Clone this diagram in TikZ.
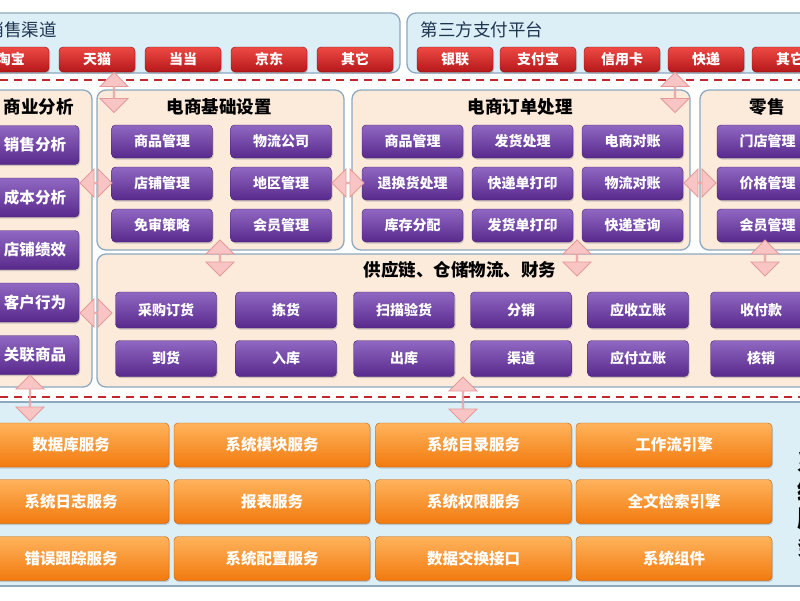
\documentclass[tikz,border=0pt]{standalone}
\usepackage{fontspec}
\setmainfont{Noto Sans CJK SC}
\usetikzlibrary{shapes.arrows,shadows}
\definecolor{bandblue}{HTML}{DCEEF6}
\definecolor{bandline}{HTML}{8DA9BF}
\definecolor{peach}{HTML}{FCEADB}
\definecolor{dashred}{HTML}{C1272D}
\definecolor{pinkfill}{HTML}{F8C4C4}
\definecolor{pinkline}{HTML}{E59A9A}
\definecolor{purtop}{HTML}{9068C2}
\definecolor{purbot}{HTML}{58298C}
\definecolor{purline}{HTML}{45206F}
\definecolor{redtop}{HTML}{EE4A44}
\definecolor{redbot}{HTML}{B5171A}
\definecolor{redline}{HTML}{8A1214}
\definecolor{ortop}{HTML}{FFB35C}
\definecolor{orbot}{HTML}{F27A0E}
\definecolor{orline}{HTML}{C25F05}
\definecolor{navy}{HTML}{1E3550}
\tikzset{
  band/.style={draw=bandline, line width=1.3pt, fill=bandblue, rounded corners=9pt},
  panel/.style={draw=bandline, line width=1.3pt, fill=peach, rounded corners=9pt},
  btn/.style={rounded corners=4pt, inner sep=0pt, text=white, drop shadow={shadow xshift=1pt, shadow yshift=-1.5pt, opacity=0.35}},
  redbtn/.style={btn, draw=redline, top color=redtop, bottom color=redbot, minimum width=76pt, minimum height=25pt, font=\fontsize{14}{15}\selectfont\bfseries},
  purbtn/.style={btn, draw=purline, top color=purtop, bottom color=purbot, minimum width=101pt, minimum height=33pt, font=\fontsize{14}{15}\selectfont\bfseries},
  orbtn/.style={btn, draw=orline, top color=ortop, bottom color=orbot, minimum width=196pt, minimum height=44pt, font=\fontsize{15.5}{16}\selectfont\bfseries},
  dbl/.style={shape=double arrow, draw=pinkline, fill=pinkfill, line width=0.8pt, inner sep=0pt, minimum width=28pt, double arrow head extend=8pt},
  sep/.style={dashred, line width=2.5pt, dash pattern=on 8pt off 6pt},
  title/.style={font=\fontsize{17.5}{18}\selectfont\bfseries},
  bandtitle/.style={navy, anchor=west, font=\fontsize{17.5}{18}\selectfont}
}
\begin{document}
\begin{tikzpicture}[x=1pt,y=-1pt]
\useasboundingbox (0,0) rectangle (800,600);
\clip (0,0) rectangle (800,600);
\fill[white] (0,0) rectangle (800,600);
\draw[band] (-20,13) rectangle (400,73);
\draw[band] (407,13) rectangle (840,73);
\node[bandtitle] (chan) at (-17,30) {销售渠道};
\node[bandtitle] (pay) at (417,30) {第三方支付平台};
\foreach \x/\t [count=\i] in {11/淘宝, 97/天猫, 183/当当, 269/京东, 355/其它}
  \node[redbtn] (s\i) at (\x,59.5) {\t};
\foreach \x/\t [count=\i] in {455/银联, 538/支付宝, 622/信用卡, 706/快递, 790/其它}
  \node[redbtn] (p\i) at (\x,59.5) {\t};
\draw[sep] (0,80) -- (800,80);
\draw[panel] (-20,90) rectangle (92,387);
\draw[panel] (97,90) rectangle (344,250);
\draw[panel] (352,90) rectangle (690,250);
\draw[panel] (700,90) rectangle (840,250);
\draw[panel] (97,254) rectangle (840,387);
\node[title, anchor=west] (ana) at (0,107) {商业分析};
\node[title] (base) at (219,107) {电商基础设置};
\node[title] (order) at (520,107) {电商订单处理};
\node[title] (retail) at (767,107) {零售};
\node[title] (supply) at (460,270) {供应链、仓储物流、财务};
\foreach \y/\t [count=\i] in {145/销售分析, 197.5/成本分析, 250/店铺绩效, 302.5/客户行为, 355/关联商品}
  \node[purbtn, minimum width=88pt, minimum height=39pt, font=\fontsize{15.5}{16}\selectfont\bfseries] (a\i) at (35,\y) {\t};
\foreach \y/\ta/\tb [count=\i] in {141.5/商品管理/物流公司, 183.5/店铺管理/地区管理, 225.5/免审策略/会员管理}{
  \node[purbtn] (b\i a) at (162,\y) {\ta};
  \node[purbtn] (b\i b) at (281,\y) {\tb};
}
\foreach \y/\ta/\tb/\tc [count=\i] in {141.5/商品管理/发货处理/电商对账, 183.5/退换货处理/快递单打印/物流对账, 225.5/库存分配/发货单打印/快递查询}{
  \node[purbtn] (o\i a) at (412.5,\y) {\ta};
  \node[purbtn] (o\i b) at (522.5,\y) {\tb};
  \node[purbtn] (o\i c) at (632.5,\y) {\tc};
}
\foreach \y/\t [count=\i] in {141.5/门店管理, 183.5/价格管理, 225.5/会员管理}
  \node[purbtn] (r\i) at (767.5,\y) {\t};
\foreach \x/\ta/\tb [count=\i] in {166/采购订货/到货, 286/拣货/入库, 404/扫描验货/出库, 521/分销/渠道, 638/应收立账/应付立账, 761/收付款/核销}{
  \node[purbtn, minimum height=36pt] (g\i a) at (\x,310) {\ta};
  \node[purbtn, minimum height=36pt] (g\i b) at (\x,358.5) {\tb};
}
\draw[sep] (0,397) -- (800,397);
\draw[band, rounded corners=0pt] (-20,402) rectangle (840,586);
\foreach \x/\ta/\tb/\tc [count=\i] in {71/数据库服务/系统日志服务/错误跟踪服务, 272/系统模块服务/报表服务/系统配置服务, 473.5/系统目录服务/系统权限服务/数据交换接口, 674/工作流引擎/全文检索引擎/系统组件}{
  \node[orbtn] (f\i a) at (\x,445) {\ta};
  \node[orbtn] (f\i b) at (\x,501.5) {\tb};
  \node[orbtn] (f\i c) at (\x,558.5) {\tc};
}
\node[font=\fontsize{24}{28}\selectfont\bfseries, align=center] (svc) at (809,504) {系\\统\\服\\务};
\node[dbl, rotate=90, minimum height=40pt] (d1) at (114,92.5) {};
\node[dbl, rotate=90, minimum height=40pt] (d2) at (675,92.5) {};
\node[dbl, minimum height=32pt] (d3) at (96,183) {};
\node[dbl, minimum height=32pt] (d4) at (348,183) {};
\node[dbl, minimum height=32pt] (d5) at (700,183) {};
\node[dbl, minimum height=32pt] (d6) at (96,313) {};
\node[dbl, rotate=90, minimum height=36pt] (d7) at (220,258) {};
\node[dbl, rotate=90, minimum height=36pt] (d8) at (577,258) {};
\node[dbl, rotate=90, minimum height=36pt] (d9) at (765,258) {};
\node[dbl, rotate=90, minimum height=46pt] (d10) at (30,398) {};
\node[dbl, rotate=90, minimum height=46pt] (d11) at (463,400) {};
\end{tikzpicture}
\end{document}
